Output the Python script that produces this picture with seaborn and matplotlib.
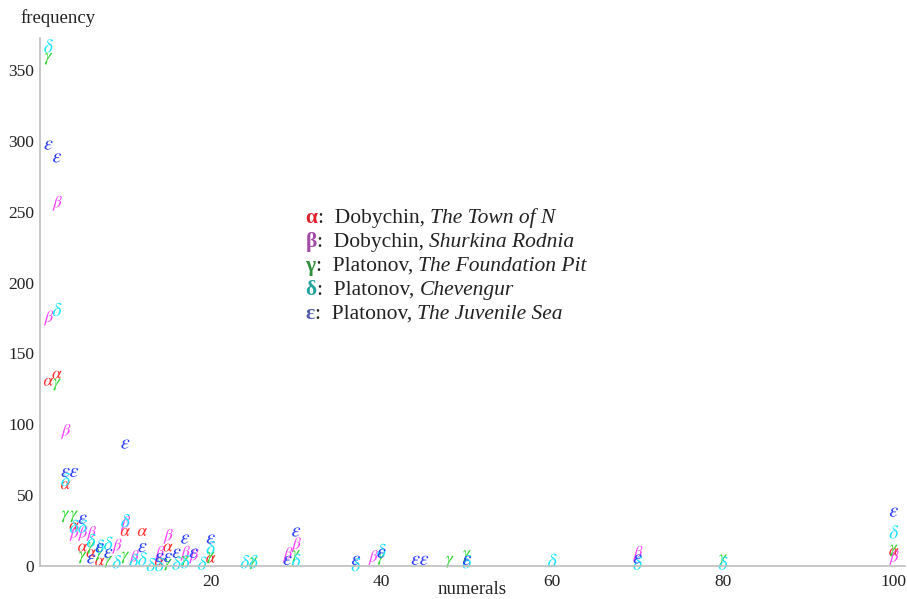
import numpy as np
import pandas as pd
import seaborn as sns
import matplotlib.pyplot as plt
from matplotlib.ticker import MultipleLocator, FixedLocator

# frequency of each numeral, per text
alpha_x = [1, 2, 3, 4, 5, 6, 7, 10, 12, 14, 15, 20, 100]
alpha_y = [130, 135, 57, 28, 13, 9, 3, 24, 24, 3, 13, 5, 10]

beta_x = [1, 2, 3, 4, 5, 6, 9, 10, 11, 14, 15, 17, 18, 29, 30, 39, 70, 100]
beta_y = [175, 256, 95, 23, 23, 23, 14, 30, 6, 9, 21, 9, 7, 8, 15, 6, 9, 6]

gamma_x = [1, 2, 3, 4, 5, 6, 7, 8, 10, 15, 17, 20, 25, 30, 40, 48, 50, 80, 100]
gamma_y = [358, 128, 35, 35, 6, 13, 8, 3, 6, 1, 3, 6, 2, 7, 5, 3, 7, 4, 11]

delta_x = [1, 2, 3, 4, 5, 6, 7, 8, 9, 10, 11, 12, 13, 14, 16, 17, 19, 20,
           24, 25, 30, 37, 40, 50, 60, 70, 80, 100]
delta_y = [367, 181, 61, 28, 28, 18, 14, 16, 3, 32, 4, 5, 1, 1, 2, 3, 2, 13,
           3, 3, 4, 1, 11, 3, 4, 2, 2, 24]

eps_x = [1, 2, 3, 4, 5, 6, 7, 8, 10, 12, 14, 15, 16, 17, 18, 20, 29, 30,
         37, 40, 44, 45, 50, 70, 100]
eps_y = [297, 288, 66, 66, 33, 5, 13, 9, 86, 13, 6, 6, 9, 19, 9, 19, 4, 24,
         4, 9, 4, 4, 4, 5, 38]

letters = ["α", "β", "γ", "δ", "ε"]
authors = ["Dobychin, ", "Dobychin, ", "Platonov, ", "Platonov, ", "Platonov, "]
titles = ["The Town of N", "Shurkina Rodnia", "The Foundation Pit",
          "Chevengur", "The Juvenile Sea"]

sns.set_theme(style="white")
plt.rcParams["font.family"] = ["Liberation Serif", "DejaVu Serif"]
plt.rcParams["mathtext.fontset"] = "stix"

frames = []
for name, xs, ys in zip(letters, [alpha_x, beta_x, gamma_x, delta_x, eps_x],
                        [alpha_y, beta_y, gamma_y, delta_y, eps_y]):
    frames.append(pd.DataFrame({"numeral": xs, "freq": ys, "text": name}))
df = pd.concat(frames, ignore_index=True)

point_col = {"α": "#ff2a2a", "β": "#ff3cff", "γ": "#2ed62e",
             "δ": "#19e6ff", "ε": "#2a3cff"}
legend_col = {"α": "#e0202c", "β": "#a24aa6", "γ": "#2f8f3c",
              "δ": "#23a39e", "ε": "#4f5aae"}
mk = {"α": r"$\alpha$", "β": r"$\beta$", "γ": r"$\gamma$",
      "δ": r"$\delta$", "ε": r"$\epsilon$"}
# mathtext markers are scaled by their longest side, so even them out
msize = {"α": 44, "β": 115, "γ": 72, "δ": 92, "ε": 44}

fig = plt.figure(figsize=(9.07, 5.99), dpi=100)
ax = fig.add_axes([40 / 907, 1 - 566 / 599, 865 / 907, 528 / 599])

sns.scatterplot(data=df, x="numeral", y="freq", hue="text", style="text",
                size="text", sizes=msize, palette=point_col, markers=mk,
                linewidth=0, legend=False, ax=ax, clip_on=False)

ax.set_xlim(0, 101.3)
ax.set_ylim(0, 372.6)
ax.xaxis.set_major_locator(FixedLocator([20, 40, 60, 80, 100]))
ax.xaxis.set_minor_locator(MultipleLocator(5))
ax.yaxis.set_major_locator(MultipleLocator(50))
ax.yaxis.set_minor_locator(MultipleLocator(10))
ax.tick_params(which="both", direction="in", color="#444444",
               labelsize=12.5, labelcolor="#222222", pad=4)
ax.tick_params(which="major", length=4, width=0.9)
ax.tick_params(which="minor", length=2, width=0.7)
ax.tick_params(axis="x", pad=6)

for side in ["top", "right"]:
    ax.spines[side].set_visible(False)
for side in ["left", "bottom"]:
    ax.spines[side].set_color("#bdbdbd")
    ax.spines[side].set_linewidth(1.2)

ax.set_xlabel("")
ax.set_ylabel("")
fig.text(20 / 907, 1 - 18 / 599, "frequency", fontsize=13.5,
         color="#222222", va="center", ha="left")
fig.text(472 / 907, 1 - 590 / 599, "numerals", fontsize=13.5,
         color="#222222", va="center", ha="center")

# key in the middle of the plot
y0 = (566 - 223) / 528
step = 24 / 528
for i, g in enumerate(letters):
    yy = y0 - i * step
    t1 = ax.text(0.307, yy, g, transform=ax.transAxes, fontsize=15.5,
                 fontweight="bold", color=legend_col[g], va="baseline")
    t2 = ax.annotate(":  " + authors[i], xy=(1, yy),
                     xycoords=(t1, "axes fraction"), fontsize=15.5,
                     color="#222222", va="baseline")
    ax.annotate(titles[i], xy=(1, yy), xycoords=(t2, "axes fraction"),
                fontsize=15.5, style="italic", color="#222222",
                va="baseline")

fig.savefig("out.png", dpi=100)
